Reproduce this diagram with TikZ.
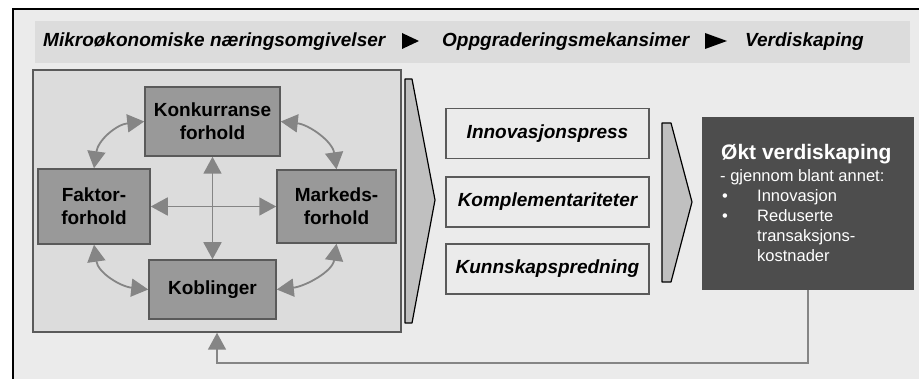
\documentclass[tikz,border=0pt]{standalone}
\usepackage{fontspec}
\setmainfont{Liberation Sans}
\usetikzlibrary{arrows.meta}
\definecolor{bgout}{HTML}{EBEBEB}
\definecolor{bgband}{HTML}{DCDCDC}
\definecolor{nodefill}{HTML}{999999}
\definecolor{nodeline}{HTML}{5A5A5A}
\definecolor{arrgray}{HTML}{858585}
\definecolor{chevfill}{HTML}{C0C0C0}
\definecolor{darkfill}{HTML}{4D4D4D}
\tikzset{
  bigfont/.style={font=\fontsize{19}{23}\selectfont\bfseries},
  fbox/.style={draw=nodeline, line width=1.5pt, fill=nodefill, align=center, bigfont, inner sep=0pt},
  mbox/.style={draw=nodeline, line width=1.5pt, fill=bgout, align=center, font=\fontsize{19}{23}\selectfont\bfseries\itshape, inner sep=0pt, minimum width=203pt, minimum height=50pt},
  garrow/.style={draw=arrgray, line width=1.8pt, {Triangle[length=17pt,width=18pt]}-{Triangle[length=17pt,width=18pt]}},
  fbarrow/.style={draw=arrgray, line width=1.8pt, -{Triangle[length=17pt,width=18pt]}},
  chev/.style={draw=black, line width=1.2pt, fill=chevfill, line join=round},
  hdrtext/.style={anchor=base west, inner sep=0pt, font=\fontsize{19}{23}\selectfont\bfseries\itshape},
  wtext/.style={anchor=base west, inner sep=0pt, text=white, font=\fontsize{16.5}{20}\selectfont},
}
\begin{document}
\begin{tikzpicture}[x=1pt,y=-1pt]
\useasboundingbox (0,0) rectangle (919,379);
\clip (0,0) rectangle (919,379);
\fill[white] (0,0) rectangle (919,379);
\draw[black, line width=1.8pt, fill=bgout] (13,9) rectangle (935,395);
% header band
\fill[bgband] (35,21) rectangle (910,63);
\node[hdrtext] (h1) at (43,47) {Mikroøkonomiske næringsomgivelser};
\node[hdrtext] (h2) at (442,47) {Oppgraderingsmekansimer};
\node[hdrtext] (h3) at (745,47) {Verdiskaping};
\fill[black] (402,33) -- (419,41) -- (402,49) -- cycle;
\fill[black] (705,33) -- (727,41) -- (705,49) -- cycle;
% left box
\node[draw=nodeline, line width=1.5pt, fill=bgband, minimum width=368pt, minimum height=262pt, inner sep=0pt] (leftbox) at (217,201) {};
\node[fbox, minimum width=135pt, minimum height=69pt] (konk) at (212.5,121.5) {Konkurranse\\forhold};
\node[fbox, minimum width=112pt, minimum height=75pt] (faktor) at (94,206.5) {Faktor-\\forhold};
\node[fbox, minimum width=119pt, minimum height=73pt] (marked) at (336.5,206.5) {Markeds-\\forhold};
\node[fbox, minimum width=127pt, minimum height=59pt] (kob) at (212.5,289.5) {Koblinger};
% arrows
\draw[garrow] (faktor.north) .. controls +(4,-28) and +(-28,3) .. (konk.west);
\draw[garrow] (konk.east) .. controls +(28,3) and +(-4,-28) .. (marked.north);
\draw[garrow] (faktor.south) .. controls +(4,28) and +(-28,-3) .. (kob.west);
\draw[garrow] (marked.south) .. controls +(-4,28) and +(28,-3) .. (kob.east);
\draw[garrow] (konk.south) -- (kob.north);
\draw[garrow] (faktor.east) -- (marked.west);
% chevrons
\draw[chev] (405,79) -- (412,79) -- (435,200) -- (412,323) -- (405,323) -- cycle;
\draw[chev] (662,123) -- (671,123) -- (692,202) -- (671,282) -- (662,282) -- cycle;
% middle boxes
\node[mbox] (m1) at (547.5,133.5) {Innovasjonspress};
\node[mbox] (m2) at (547.5,202) {Komplementariteter};
\node[mbox] (m3) at (547.5,269) {Kunnskapspredning};
% dark box
\node[fill=darkfill, minimum width=212pt, minimum height=173pt, inner sep=0pt] (dark) at (808,203.5) {};
\node[wtext, font=\fontsize{21}{24}\selectfont\bfseries] (t0) at (721,160) {Økt verdiskaping};
\node[wtext] (t1) at (720,181.7) {- gjennom blant annet:};
\node[wtext] (b1) at (722,202) {•};
\node[wtext] (t2) at (757,202) {Innovasjon};
\node[wtext] (b2) at (722,221.7) {•};
\node[wtext] (t3) at (757,221.7) {Reduserte};
\node[wtext] (t4) at (757,241.7) {transaksjons-};
\node[wtext] (t5) at (757,261.7) {kostnader};
% feedback
\coordinate (fbc) at (217,363);
\draw[fbarrow] (dark.south) |- (fbc) -- (leftbox.south);
\end{tikzpicture}
\end{document}
